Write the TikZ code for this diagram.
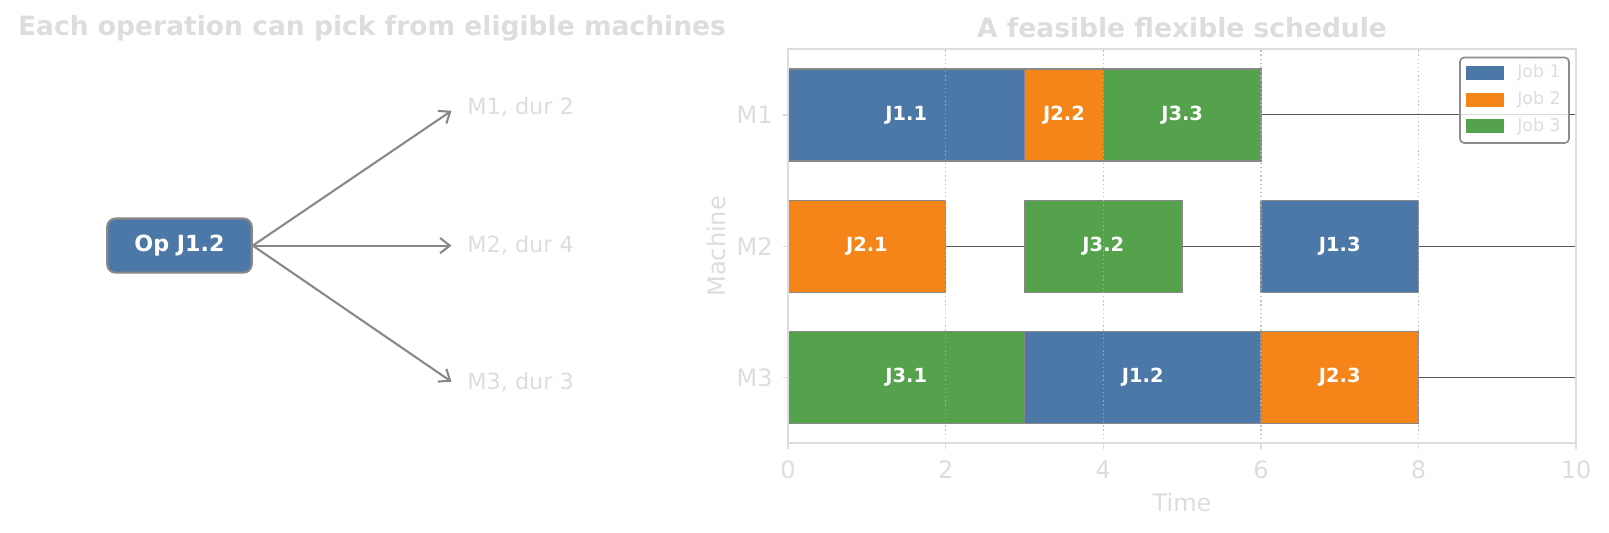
\documentclass[tikz,border=0pt]{standalone}
\usepackage{fontspec}
\setmainfont{DejaVu Sans}
\usetikzlibrary{arrows.meta}
\definecolor{jobone}{HTML}{4C78A8}
\definecolor{jobtwo}{HTML}{F58518}
\definecolor{jobthree}{HTML}{54A24B}
\definecolor{faint}{HTML}{DDDDDD}
\definecolor{edgegray}{HTML}{888888}
\begin{document}
\begin{tikzpicture}[x=0.72pt,y=-0.72pt,
    title/.style={text=faint,font=\fontsize{19.1}{23}\selectfont\bfseries},
    plain/.style={text=faint,font=\fontsize{16.1}{20}\selectfont,inner sep=0pt},
    axtext/.style={text=faint,font=\fontsize{17.3}{20}\selectfont,inner sep=0pt},
    opbox/.style={fill=jobone,draw=edgegray,line width=1.5pt,rounded corners=6pt,text=white,
      font=\fontsize{16}{20}\selectfont\bfseries,minimum width=104pt,minimum height=39pt,inner sep=0pt},
    pick/.style={draw=edgegray,line width=1.5pt,-{Straight Barb[length=7pt,width=11pt,line width=1.5pt]}},
    bar/.style={draw=edgegray,line width=1pt,text=white,font=\fontsize{14}{16}\selectfont\bfseries,
      minimum height=66.2pt,inner sep=0pt,outer sep=0pt,anchor=west},
    timeline/.style={draw=black!65,line width=0.8pt},
    gridline/.style={draw=black!30,line width=1pt,dotted,opacity=0.8},
    frame/.style={draw=faint,line width=1.3pt},
    tick/.style={draw=faint,line width=1pt},
    legendbox/.style={draw=black!45,line width=1.2pt,fill=white,fill opacity=0.8,rounded corners=3pt},
    legendtext/.style={text=faint,font=\fontsize{12.5}{15}\selectfont,inner sep=0pt,anchor=west}]
  \useasboundingbox (0,0) rectangle (1609,532);

  \node[title] (lefttitle) at (372,28) {Each operation can pick from eligible machines};
  \node[opbox] (op) at (179.5,245.6) {Op J1.2};
  \coordinate (m1) at (451.5,110.8);
  \coordinate (m2) at (451.5,245.6);
  \coordinate (m3) at (451.5,381.7);
  \draw[pick] (op.east) -- (m1);
  \draw[pick] (op.east) -- (m2);
  \draw[pick] (op.east) -- (m3);
  \node[plain,anchor=west] (c1) at (467,107) {M1, dur 2};
  \node[plain,anchor=west] (c2) at (467,245.5) {M2, dur 4};
  \node[plain,anchor=west] (c3) at (467,382.7) {M3, dur 3};

  \node[title] (righttitle) at (1182,27.7) {A feasible flexible schedule};
  \begin{scope}[shift={(788.1,377.6)},x=56.74pt,y=94.57pt]
    \foreach \m in {0,1,2}
      \draw[timeline] (0,\m) -- (10,\m);
    \foreach \nm/\s/\e/\m/\col/\lab in {
        ja/0/3/2/jobone/J1.1, jb/3/4/2/jobtwo/J2.2, jc/4/6/2/jobthree/J3.3,
        jd/0/2/1/jobtwo/J2.1, je/3/5/1/jobthree/J3.2, jf/6/8/1/jobone/J1.3,
        jg/0/3/0/jobthree/J3.1, jh/3/6/0/jobone/J1.2, ji/6/8/0/jobtwo/J2.3}
      \node[bar,fill=\col,minimum width={(\e-\s)*56.74pt}] (\nm) at (\s,\m) {\lab};
    \foreach \t in {2,4,6,8}
      \draw[gridline] (\t,-0.5) -- (\t,2.5);
    \draw[frame] (0,-0.5) rectangle (10,2.5);
    \foreach \t in {0,2,...,10} {
      \draw[tick] (\t,-0.5) -- ++(0,-4pt);
      \node[axtext] (xt\t) at (\t,-0.5) [yshift=-19.2pt] {\t};
    }
    \foreach \m/\lab in {2/M1,1/M2,0/M3} {
      \draw[tick] (0,\m) -- ++(-4pt,0);
      \node[axtext,anchor=east] (yt\m) at (0,\m) [xshift=-11pt] {\lab};
    }
  \end{scope}
  \node[axtext] (xlabel) at (1182,502.8) {Time};
  \node[axtext,rotate=90] (ylabel) at (717,246.3) {Machine};

  \draw[legendbox] (1460,57.5) rectangle (1569,143);
  \fill[jobone] (1466,66) rectangle (1504,80);
  \fill[jobtwo] (1466,92.7) rectangle (1504,106.7);
  \fill[jobthree] (1466,119.3) rectangle (1504,133.3);
  \node[legendtext] (leg1) at (1517,73) {Job 1};
  \node[legendtext] (leg2) at (1517,99.7) {Job 2};
  \node[legendtext] (leg3) at (1517,126.3) {Job 3};
\end{tikzpicture}
\end{document}
